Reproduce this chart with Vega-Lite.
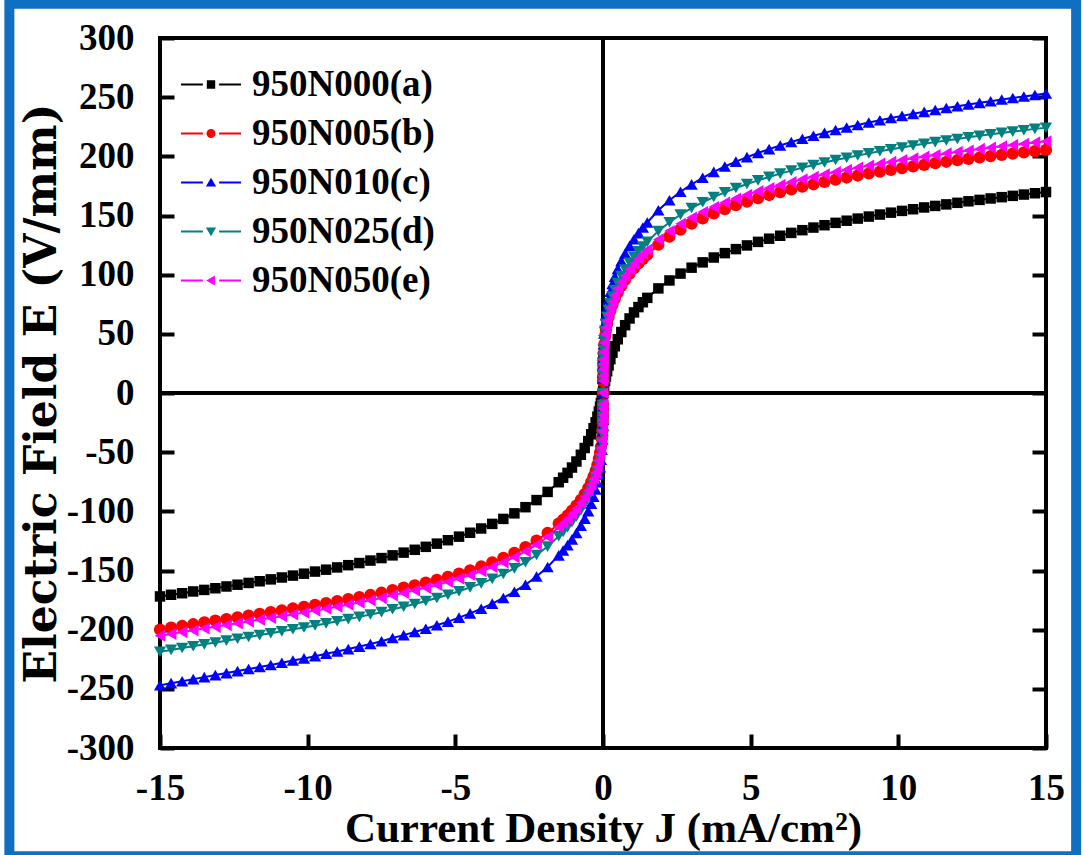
{
"$schema": "https://vega.github.io/schema/vega-lite/v6.json",
"width": 886, "height": 710,
"autosize": {"type": "none"},
"padding": {"left": 160, "top": 38, "right": 37, "bottom": 107},
"background": "white",
"config": {
 "view": {"stroke": "black", "strokeWidth": 4},
 "axis": {"grid": false, "domain": false, "ticks": true, "tickColor": "black", "tickWidth": 4, "tickSize": -14, "labelFont": "Liberation Serif", "labelFontSize": 37, "labelFontWeight": "bold", "labelColor": "black", "titleFont": "Liberation Serif", "titleFontSize": 43, "titleFontWeight": "bold", "titleColor": "black", "labelFlush": false, "labelOverlap": false},
 "legend": {"labelFont": "Liberation Serif", "labelFontSize": 37, "labelFontWeight": "bold", "labelColor": "black", "labelOffset": 11, "symbolSize": 3600, "clipHeight": 49, "rowPadding": 0, "padding": 0, "symbolStrokeWidth": 0, "labelLimit": 400}
},
"datasets": {"iv": [
{"s":"a","J":-15,"E":-171.9},{"s":"a","J":-14.625,"E":-170.5},{"s":"a","J":-14.25,"E":-169.2},{"s":"a","J":-13.875,"E":-167.7},{"s":"a","J":-13.5,"E":-166.4},{"s":"a","J":-13.125,"E":-165.0},{"s":"a","J":-12.75,"E":-163.5},{"s":"a","J":-12.375,"E":-162.0},{"s":"a","J":-12,"E":-160.5},{"s":"a","J":-11.625,"E":-159.1},{"s":"a","J":-11.25,"E":-157.5},{"s":"a","J":-10.875,"E":-155.9},{"s":"a","J":-10.5,"E":-154.3},{"s":"a","J":-10.125,"E":-152.7},{"s":"a","J":-9.75,"E":-150.9},{"s":"a","J":-9.375,"E":-149.3},{"s":"a","J":-9,"E":-147.4},{"s":"a","J":-8.625,"E":-145.5},{"s":"a","J":-8.25,"E":-143.7},{"s":"a","J":-7.875,"E":-141.6},{"s":"a","J":-7.5,"E":-139.5},{"s":"a","J":-7.125,"E":-137.2},{"s":"a","J":-6.75,"E":-134.9},{"s":"a","J":-6.375,"E":-132.5},{"s":"a","J":-6,"E":-130.0},{"s":"a","J":-5.625,"E":-127.3},{"s":"a","J":-5.25,"E":-124.4},{"s":"a","J":-4.875,"E":-121.4},{"s":"a","J":-4.5,"E":-118.1},{"s":"a","J":-4.125,"E":-114.5},{"s":"a","J":-3.75,"E":-110.6},{"s":"a","J":-3.375,"E":-106.4},{"s":"a","J":-3,"E":-101.7},{"s":"a","J":-2.625,"E":-96.5},{"s":"a","J":-2.25,"E":-90.5},{"s":"a","J":-1.875,"E":-83.6},{"s":"a","J":-1.5,"E":-75.4},{"s":"a","J":-1.35,"E":-71.6},{"s":"a","J":-1.2,"E":-67.5},{"s":"a","J":-1.05,"E":-63.0},{"s":"a","J":-0.9,"E":-57.9},{"s":"a","J":-0.75,"E":-52.2},{"s":"a","J":-0.62,"E":-46.5},{"s":"a","J":-0.5,"E":-40.6},{"s":"a","J":-0.4,"E":-34.9},{"s":"a","J":-0.32,"E":-29.8},{"s":"a","J":-0.25,"E":-24.8},{"s":"a","J":-0.19,"E":-20.0},{"s":"a","J":-0.14,"E":-15.6},{"s":"a","J":-0.1,"E":-11.6},{"s":"a","J":-0.07,"E":-8.5},{"s":"a","J":-0.04,"E":-5.0},{"s":"a","J":-0.02,"E":-2.6},{"s":"a","J":-0.01,"E":-1.3},{"s":"a","J":0,"E":0},
{"s":"a","J":0.01,"E":1.6},{"s":"a","J":0.02,"E":3.2},{"s":"a","J":0.04,"E":6.1},{"s":"a","J":0.07,"E":10.2},{"s":"a","J":0.1,"E":13.9},{"s":"a","J":0.14,"E":18.4},{"s":"a","J":0.19,"E":23.3},{"s":"a","J":0.25,"E":28.6},{"s":"a","J":0.32,"E":34.0},{"s":"a","J":0.4,"E":39.5},{"s":"a","J":0.5,"E":45.4},{"s":"a","J":0.62,"E":51.5},{"s":"a","J":0.75,"E":57.3},{"s":"a","J":0.9,"E":63.0},{"s":"a","J":1.05,"E":68.1},{"s":"a","J":1.2,"E":72.6},{"s":"a","J":1.35,"E":76.7},{"s":"a","J":1.5,"E":80.4},{"s":"a","J":1.875,"E":88.4},{"s":"a","J":2.25,"E":95.1},{"s":"a","J":2.625,"E":100.9},{"s":"a","J":3,"E":105.9},{"s":"a","J":3.375,"E":110.4},{"s":"a","J":3.75,"E":114.5},{"s":"a","J":4.125,"E":118.2},{"s":"a","J":4.5,"E":121.6},{"s":"a","J":4.875,"E":124.7},{"s":"a","J":5.25,"E":127.7},{"s":"a","J":5.625,"E":130.4},{"s":"a","J":6,"E":132.9},{"s":"a","J":6.375,"E":135.3},{"s":"a","J":6.75,"E":137.6},{"s":"a","J":7.125,"E":139.8},{"s":"a","J":7.5,"E":141.8},{"s":"a","J":7.875,"E":143.8},{"s":"a","J":8.25,"E":145.6},{"s":"a","J":8.625,"E":147.4},{"s":"a","J":9,"E":149.1},{"s":"a","J":9.375,"E":150.8},{"s":"a","J":9.75,"E":152.4},{"s":"a","J":10.125,"E":153.9},{"s":"a","J":10.5,"E":155.3},{"s":"a","J":10.875,"E":156.8},{"s":"a","J":11.25,"E":158.1},{"s":"a","J":11.625,"E":159.4},{"s":"a","J":12,"E":160.7},{"s":"a","J":12.375,"E":162.0},{"s":"a","J":12.75,"E":163.2},{"s":"a","J":13.125,"E":164.4},{"s":"a","J":13.5,"E":165.5},{"s":"a","J":13.875,"E":166.6},{"s":"a","J":14.25,"E":167.7},{"s":"a","J":14.625,"E":168.8},{"s":"a","J":15,"E":169.8},
{"s":"b","J":-15,"E":-199.9},{"s":"b","J":-14.625,"E":-198.3},{"s":"b","J":-14.25,"E":-196.9},{"s":"b","J":-13.875,"E":-195.4},{"s":"b","J":-13.5,"E":-193.9},{"s":"b","J":-13.125,"E":-192.4},{"s":"b","J":-12.75,"E":-191.0},{"s":"b","J":-12.375,"E":-189.6},{"s":"b","J":-12,"E":-188.1},{"s":"b","J":-11.625,"E":-186.7},{"s":"b","J":-11.25,"E":-185.2},{"s":"b","J":-10.875,"E":-183.7},{"s":"b","J":-10.5,"E":-182.1},{"s":"b","J":-10.125,"E":-180.7},{"s":"b","J":-9.75,"E":-179.1},{"s":"b","J":-9.375,"E":-177.5},{"s":"b","J":-9,"E":-175.9},{"s":"b","J":-8.625,"E":-174.2},{"s":"b","J":-8.25,"E":-172.5},{"s":"b","J":-7.875,"E":-170.7},{"s":"b","J":-7.5,"E":-168.8},{"s":"b","J":-7.125,"E":-166.5},{"s":"b","J":-6.75,"E":-164.5},{"s":"b","J":-6.375,"E":-162.5},{"s":"b","J":-6,"E":-160.2},{"s":"b","J":-5.625,"E":-157.9},{"s":"b","J":-5.25,"E":-155.4},{"s":"b","J":-4.875,"E":-152.7},{"s":"b","J":-4.5,"E":-149.8},{"s":"b","J":-4.125,"E":-146.6},{"s":"b","J":-3.75,"E":-143.1},{"s":"b","J":-3.375,"E":-139.3},{"s":"b","J":-3,"E":-135.1},{"s":"b","J":-2.625,"E":-130.3},{"s":"b","J":-2.25,"E":-124.8},{"s":"b","J":-1.875,"E":-118.3},{"s":"b","J":-1.5,"E":-110.4},{"s":"b","J":-1.35,"E":-107.1},{"s":"b","J":-1.2,"E":-103.5},{"s":"b","J":-1.05,"E":-99.5},{"s":"b","J":-0.9,"E":-95.2},{"s":"b","J":-0.75,"E":-90.3},{"s":"b","J":-0.62,"E":-85.4},{"s":"b","J":-0.5,"E":-80.3},{"s":"b","J":-0.4,"E":-75.2},{"s":"b","J":-0.32,"E":-70.5},{"s":"b","J":-0.25,"E":-65.7},{"s":"b","J":-0.19,"E":-60.6},{"s":"b","J":-0.14,"E":-55.5},{"s":"b","J":-0.1,"E":-50.3},{"s":"b","J":-0.07,"E":-45.4},{"s":"b","J":-0.04,"E":-38.6},{"s":"b","J":-0.02,"E":-31.6},{"s":"b","J":-0.01,"E":-25.8},{"s":"b","J":-0.006,"E":-22.3},{"s":"b","J":-0.003,"E":-18.2},{"s":"b","J":-0.001,"E":-13.2},{"s":"b","J":-0.0003,"E":-9.3},{"s":"b","J":0,"E":0},
{"s":"b","J":0.0003,"E":9.9},{"s":"b","J":0.001,"E":14.0},{"s":"b","J":0.003,"E":19.3},{"s":"b","J":0.006,"E":23.6},{"s":"b","J":0.01,"E":27.4},{"s":"b","J":0.02,"E":33.4},{"s":"b","J":0.04,"E":40.9},{"s":"b","J":0.07,"E":48.1},{"s":"b","J":0.1,"E":53.3},{"s":"b","J":0.14,"E":58.8},{"s":"b","J":0.19,"E":64.2},{"s":"b","J":0.25,"E":69.6},{"s":"b","J":0.32,"E":74.7},{"s":"b","J":0.4,"E":79.7},{"s":"b","J":0.5,"E":85.0},{"s":"b","J":0.62,"E":90.5},{"s":"b","J":0.75,"E":95.7},{"s":"b","J":0.9,"E":100.8},{"s":"b","J":1.05,"E":105.4},{"s":"b","J":1.2,"E":109.6},{"s":"b","J":1.35,"E":113.4},{"s":"b","J":1.5,"E":116.9},{"s":"b","J":1.875,"E":125.3},{"s":"b","J":2.25,"E":132.2},{"s":"b","J":2.625,"E":138.0},{"s":"b","J":3,"E":143.1},{"s":"b","J":3.375,"E":147.6},{"s":"b","J":3.75,"E":151.7},{"s":"b","J":4.125,"E":155.3},{"s":"b","J":4.5,"E":158.7},{"s":"b","J":4.875,"E":161.7},{"s":"b","J":5.25,"E":164.6},{"s":"b","J":5.625,"E":167.3},{"s":"b","J":6,"E":169.8},{"s":"b","J":6.375,"E":172.1},{"s":"b","J":6.75,"E":174.3},{"s":"b","J":7.125,"E":176.4},{"s":"b","J":7.5,"E":178.4},{"s":"b","J":7.875,"E":180.3},{"s":"b","J":8.25,"E":182.1},{"s":"b","J":8.625,"E":183.8},{"s":"b","J":9,"E":185.5},{"s":"b","J":9.375,"E":187.1},{"s":"b","J":9.75,"E":188.6},{"s":"b","J":10.125,"E":190.1},{"s":"b","J":10.5,"E":191.5},{"s":"b","J":10.875,"E":192.8},{"s":"b","J":11.25,"E":194.2},{"s":"b","J":11.625,"E":195.4},{"s":"b","J":12,"E":196.7},{"s":"b","J":12.375,"E":197.9},{"s":"b","J":12.75,"E":199.0},{"s":"b","J":13.125,"E":200.2},{"s":"b","J":13.5,"E":201.3},{"s":"b","J":13.875,"E":202.3},{"s":"b","J":14.25,"E":203.4},{"s":"b","J":14.625,"E":204.4},{"s":"b","J":15,"E":205.4},
{"s":"c","J":-15,"E":-247.0},{"s":"c","J":-14.625,"E":-245.2},{"s":"c","J":-14.25,"E":-243.6},{"s":"c","J":-13.875,"E":-241.8},{"s":"c","J":-13.5,"E":-240.1},{"s":"c","J":-13.125,"E":-238.4},{"s":"c","J":-12.75,"E":-236.7},{"s":"c","J":-12.375,"E":-235.0},{"s":"c","J":-12,"E":-233.3},{"s":"c","J":-11.625,"E":-231.5},{"s":"c","J":-11.25,"E":-229.8},{"s":"c","J":-10.875,"E":-228.0},{"s":"c","J":-10.5,"E":-226.1},{"s":"c","J":-10.125,"E":-224.3},{"s":"c","J":-9.75,"E":-222.4},{"s":"c","J":-9.375,"E":-220.4},{"s":"c","J":-9,"E":-218.5},{"s":"c","J":-8.625,"E":-216.4},{"s":"c","J":-8.25,"E":-214.3},{"s":"c","J":-7.875,"E":-212.1},{"s":"c","J":-7.5,"E":-209.8},{"s":"c","J":-7.125,"E":-207.0},{"s":"c","J":-6.75,"E":-204.6},{"s":"c","J":-6.375,"E":-202.0},{"s":"c","J":-6,"E":-199.2},{"s":"c","J":-5.625,"E":-196.3},{"s":"c","J":-5.25,"E":-193.2},{"s":"c","J":-4.875,"E":-189.8},{"s":"c","J":-4.5,"E":-186.2},{"s":"c","J":-4.125,"E":-182.3},{"s":"c","J":-3.75,"E":-178.0},{"s":"c","J":-3.375,"E":-173.2},{"s":"c","J":-3,"E":-167.9},{"s":"c","J":-2.625,"E":-162.0},{"s":"c","J":-2.25,"E":-155.1},{"s":"c","J":-1.875,"E":-147.0},{"s":"c","J":-1.5,"E":-137.2},{"s":"c","J":-1.35,"E":-133.1},{"s":"c","J":-1.2,"E":-128.6},{"s":"c","J":-1.05,"E":-123.7},{"s":"c","J":-0.9,"E":-118.3},{"s":"c","J":-0.75,"E":-112.2},{"s":"c","J":-0.62,"E":-106.2},{"s":"c","J":-0.5,"E":-99.8},{"s":"c","J":-0.4,"E":-93.5},{"s":"c","J":-0.32,"E":-87.7},{"s":"c","J":-0.25,"E":-81.6},{"s":"c","J":-0.19,"E":-75.4},{"s":"c","J":-0.14,"E":-69.0},{"s":"c","J":-0.1,"E":-62.6},{"s":"c","J":-0.07,"E":-56.4},{"s":"c","J":-0.04,"E":-48.0},{"s":"c","J":-0.02,"E":-39.2},{"s":"c","J":-0.01,"E":-32.1},{"s":"c","J":-0.006,"E":-27.7},{"s":"c","J":-0.003,"E":-22.6},{"s":"c","J":-0.001,"E":-16.5},{"s":"c","J":-0.0003,"E":-11.6},{"s":"c","J":0,"E":0},
{"s":"c","J":0.0003,"E":12.2},{"s":"c","J":0.001,"E":17.3},{"s":"c","J":0.003,"E":23.8},{"s":"c","J":0.006,"E":29.1},{"s":"c","J":0.01,"E":33.7},{"s":"c","J":0.02,"E":41.2},{"s":"c","J":0.04,"E":50.4},{"s":"c","J":0.07,"E":59.2},{"s":"c","J":0.1,"E":65.7},{"s":"c","J":0.14,"E":72.4},{"s":"c","J":0.19,"E":79.2},{"s":"c","J":0.25,"E":85.7},{"s":"c","J":0.32,"E":92.1},{"s":"c","J":0.4,"E":98.2},{"s":"c","J":0.5,"E":104.8},{"s":"c","J":0.62,"E":111.5},{"s":"c","J":0.75,"E":117.9},{"s":"c","J":0.9,"E":124.3},{"s":"c","J":1.05,"E":129.9},{"s":"c","J":1.2,"E":135.1},{"s":"c","J":1.35,"E":139.8},{"s":"c","J":1.5,"E":144.1},{"s":"c","J":1.875,"E":154.4},{"s":"c","J":2.25,"E":162.9},{"s":"c","J":2.625,"E":170.1},{"s":"c","J":3,"E":176.3},{"s":"c","J":3.375,"E":181.9},{"s":"c","J":3.75,"E":186.9},{"s":"c","J":4.125,"E":191.4},{"s":"c","J":4.5,"E":195.5},{"s":"c","J":4.875,"E":199.3},{"s":"c","J":5.25,"E":202.8},{"s":"c","J":5.625,"E":206.1},{"s":"c","J":6,"E":209.2},{"s":"c","J":6.375,"E":212.1},{"s":"c","J":6.75,"E":214.8},{"s":"c","J":7.125,"E":217.4},{"s":"c","J":7.5,"E":219.8},{"s":"c","J":7.875,"E":222.2},{"s":"c","J":8.25,"E":224.4},{"s":"c","J":8.625,"E":226.5},{"s":"c","J":9,"E":228.6},{"s":"c","J":9.375,"E":230.5},{"s":"c","J":9.75,"E":232.4},{"s":"c","J":10.125,"E":234.2},{"s":"c","J":10.5,"E":235.9},{"s":"c","J":10.875,"E":237.6},{"s":"c","J":11.25,"E":239.2},{"s":"c","J":11.625,"E":240.8},{"s":"c","J":12,"E":242.3},{"s":"c","J":12.375,"E":243.8},{"s":"c","J":12.75,"E":245.2},{"s":"c","J":13.125,"E":246.6},{"s":"c","J":13.5,"E":248.0},{"s":"c","J":13.875,"E":249.3},{"s":"c","J":14.25,"E":250.6},{"s":"c","J":14.625,"E":251.8},{"s":"c","J":15,"E":253.1},
{"s":"d","J":-15,"E":-218.7},{"s":"d","J":-14.625,"E":-217.1},{"s":"d","J":-14.25,"E":-215.5},{"s":"d","J":-13.875,"E":-214.0},{"s":"d","J":-13.5,"E":-212.4},{"s":"d","J":-13.125,"E":-210.8},{"s":"d","J":-12.75,"E":-209.3},{"s":"d","J":-12.375,"E":-207.7},{"s":"d","J":-12,"E":-206.2},{"s":"d","J":-11.625,"E":-204.6},{"s":"d","J":-11.25,"E":-203.0},{"s":"d","J":-10.875,"E":-201.4},{"s":"d","J":-10.5,"E":-199.7},{"s":"d","J":-10.125,"E":-198.2},{"s":"d","J":-9.75,"E":-196.4},{"s":"d","J":-9.375,"E":-194.7},{"s":"d","J":-9,"E":-192.9},{"s":"d","J":-8.625,"E":-191.1},{"s":"d","J":-8.25,"E":-189.2},{"s":"d","J":-7.875,"E":-187.2},{"s":"d","J":-7.5,"E":-185.2},{"s":"d","J":-7.125,"E":-182.7},{"s":"d","J":-6.75,"E":-180.6},{"s":"d","J":-6.375,"E":-178.3},{"s":"d","J":-6,"E":-175.8},{"s":"d","J":-5.625,"E":-173.2},{"s":"d","J":-5.25,"E":-170.5},{"s":"d","J":-4.875,"E":-167.5},{"s":"d","J":-4.5,"E":-164.3},{"s":"d","J":-4.125,"E":-160.9},{"s":"d","J":-3.75,"E":-157.1},{"s":"d","J":-3.375,"E":-152.9},{"s":"d","J":-3,"E":-148.2},{"s":"d","J":-2.625,"E":-143.0},{"s":"d","J":-2.25,"E":-136.9},{"s":"d","J":-1.875,"E":-129.8},{"s":"d","J":-1.5,"E":-121.1},{"s":"d","J":-1.35,"E":-117.5},{"s":"d","J":-1.2,"E":-113.5},{"s":"d","J":-1.05,"E":-109.2},{"s":"d","J":-0.9,"E":-104.4},{"s":"d","J":-0.75,"E":-99.1},{"s":"d","J":-0.62,"E":-93.8},{"s":"d","J":-0.5,"E":-88.1},{"s":"d","J":-0.4,"E":-82.6},{"s":"d","J":-0.32,"E":-77.4},{"s":"d","J":-0.25,"E":-72.0},{"s":"d","J":-0.19,"E":-66.5},{"s":"d","J":-0.14,"E":-60.9},{"s":"d","J":-0.1,"E":-55.2},{"s":"d","J":-0.07,"E":-49.8},{"s":"d","J":-0.04,"E":-42.3},{"s":"d","J":-0.02,"E":-34.6},{"s":"d","J":-0.01,"E":-28.3},{"s":"d","J":-0.006,"E":-24.4},{"s":"d","J":-0.003,"E":-20.0},{"s":"d","J":-0.001,"E":-14.5},{"s":"d","J":-0.0003,"E":-10.2},{"s":"d","J":0,"E":0},
{"s":"d","J":0.0003,"E":10.8},{"s":"d","J":0.001,"E":15.3},{"s":"d","J":0.003,"E":21.1},{"s":"d","J":0.006,"E":25.8},{"s":"d","J":0.01,"E":29.9},{"s":"d","J":0.02,"E":36.5},{"s":"d","J":0.04,"E":44.6},{"s":"d","J":0.07,"E":52.5},{"s":"d","J":0.1,"E":58.2},{"s":"d","J":0.14,"E":64.2},{"s":"d","J":0.19,"E":70.1},{"s":"d","J":0.25,"E":75.9},{"s":"d","J":0.32,"E":81.6},{"s":"d","J":0.4,"E":87.0},{"s":"d","J":0.5,"E":92.9},{"s":"d","J":0.62,"E":98.8},{"s":"d","J":0.75,"E":104.4},{"s":"d","J":0.9,"E":110.1},{"s":"d","J":1.05,"E":115.1},{"s":"d","J":1.2,"E":119.7},{"s":"d","J":1.35,"E":123.8},{"s":"d","J":1.5,"E":127.7},{"s":"d","J":1.875,"E":136.8},{"s":"d","J":2.25,"E":144.3},{"s":"d","J":2.625,"E":150.7},{"s":"d","J":3,"E":156.3},{"s":"d","J":3.375,"E":161.2},{"s":"d","J":3.75,"E":165.6},{"s":"d","J":4.125,"E":169.6},{"s":"d","J":4.5,"E":173.2},{"s":"d","J":4.875,"E":176.6},{"s":"d","J":5.25,"E":179.7},{"s":"d","J":5.625,"E":182.6},{"s":"d","J":6,"E":185.4},{"s":"d","J":6.375,"E":187.9},{"s":"d","J":6.75,"E":190.3},{"s":"d","J":7.125,"E":192.6},{"s":"d","J":7.5,"E":194.8},{"s":"d","J":7.875,"E":196.9},{"s":"d","J":8.25,"E":198.8},{"s":"d","J":8.625,"E":200.7},{"s":"d","J":9,"E":202.5},{"s":"d","J":9.375,"E":204.3},{"s":"d","J":9.75,"E":205.9},{"s":"d","J":10.125,"E":207.5},{"s":"d","J":10.5,"E":209.1},{"s":"d","J":10.875,"E":210.6},{"s":"d","J":11.25,"E":212.0},{"s":"d","J":11.625,"E":213.4},{"s":"d","J":12,"E":214.7},{"s":"d","J":12.375,"E":216.1},{"s":"d","J":12.75,"E":217.3},{"s":"d","J":13.125,"E":218.6},{"s":"d","J":13.5,"E":219.8},{"s":"d","J":13.875,"E":220.9},{"s":"d","J":14.25,"E":222.1},{"s":"d","J":14.625,"E":223.2},{"s":"d","J":15,"E":224.2},
{"s":"e","J":-15,"E":-205.1},{"s":"e","J":-14.625,"E":-203.6},{"s":"e","J":-14.25,"E":-202.0},{"s":"e","J":-13.875,"E":-200.5},{"s":"e","J":-13.5,"E":-199.0},{"s":"e","J":-13.125,"E":-197.6},{"s":"e","J":-12.75,"E":-196.1},{"s":"e","J":-12.375,"E":-194.6},{"s":"e","J":-12,"E":-193.1},{"s":"e","J":-11.625,"E":-191.6},{"s":"e","J":-11.25,"E":-190.1},{"s":"e","J":-10.875,"E":-188.6},{"s":"e","J":-10.5,"E":-187.1},{"s":"e","J":-10.125,"E":-185.5},{"s":"e","J":-9.75,"E":-183.9},{"s":"e","J":-9.375,"E":-182.3},{"s":"e","J":-9,"E":-180.6},{"s":"e","J":-8.625,"E":-178.9},{"s":"e","J":-8.25,"E":-177.1},{"s":"e","J":-7.875,"E":-175.2},{"s":"e","J":-7.5,"E":-173.3},{"s":"e","J":-7.125,"E":-171.0},{"s":"e","J":-6.75,"E":-169.0},{"s":"e","J":-6.375,"E":-166.8},{"s":"e","J":-6,"E":-164.6},{"s":"e","J":-5.625,"E":-162.2},{"s":"e","J":-5.25,"E":-159.6},{"s":"e","J":-4.875,"E":-156.8},{"s":"e","J":-4.5,"E":-153.8},{"s":"e","J":-4.125,"E":-150.6},{"s":"e","J":-3.75,"E":-147.0},{"s":"e","J":-3.375,"E":-143.1},{"s":"e","J":-3,"E":-138.7},{"s":"e","J":-2.625,"E":-133.8},{"s":"e","J":-2.25,"E":-128.1},{"s":"e","J":-1.875,"E":-121.5},{"s":"e","J":-1.5,"E":-113.4},{"s":"e","J":-1.35,"E":-110.0},{"s":"e","J":-1.2,"E":-106.3},{"s":"e","J":-1.05,"E":-102.2},{"s":"e","J":-0.9,"E":-97.8},{"s":"e","J":-0.75,"E":-92.7},{"s":"e","J":-0.62,"E":-87.7},{"s":"e","J":-0.5,"E":-82.4},{"s":"e","J":-0.4,"E":-77.3},{"s":"e","J":-0.32,"E":-72.4},{"s":"e","J":-0.25,"E":-67.4},{"s":"e","J":-0.19,"E":-62.3},{"s":"e","J":-0.14,"E":-57.0},{"s":"e","J":-0.1,"E":-51.7},{"s":"e","J":-0.07,"E":-46.6},{"s":"e","J":-0.04,"E":-39.6},{"s":"e","J":-0.02,"E":-32.4},{"s":"e","J":-0.01,"E":-26.5},{"s":"e","J":-0.006,"E":-22.9},{"s":"e","J":-0.003,"E":-18.7},{"s":"e","J":-0.001,"E":-13.6},{"s":"e","J":-0.0003,"E":-9.6},{"s":"e","J":0,"E":0},
{"s":"e","J":0.0003,"E":10.2},{"s":"e","J":0.001,"E":14.5},{"s":"e","J":0.003,"E":20.0},{"s":"e","J":0.006,"E":24.4},{"s":"e","J":0.01,"E":28.3},{"s":"e","J":0.02,"E":34.6},{"s":"e","J":0.04,"E":42.3},{"s":"e","J":0.07,"E":49.8},{"s":"e","J":0.1,"E":55.2},{"s":"e","J":0.14,"E":60.9},{"s":"e","J":0.19,"E":66.5},{"s":"e","J":0.25,"E":72.0},{"s":"e","J":0.32,"E":77.4},{"s":"e","J":0.4,"E":82.6},{"s":"e","J":0.5,"E":88.1},{"s":"e","J":0.62,"E":93.8},{"s":"e","J":0.75,"E":99.1},{"s":"e","J":0.9,"E":104.4},{"s":"e","J":1.05,"E":109.2},{"s":"e","J":1.2,"E":113.5},{"s":"e","J":1.35,"E":117.5},{"s":"e","J":1.5,"E":121.1},{"s":"e","J":1.875,"E":129.8},{"s":"e","J":2.25,"E":136.9},{"s":"e","J":2.625,"E":143.0},{"s":"e","J":3,"E":148.2},{"s":"e","J":3.375,"E":152.9},{"s":"e","J":3.75,"E":157.1},{"s":"e","J":4.125,"E":160.9},{"s":"e","J":4.5,"E":164.3},{"s":"e","J":4.875,"E":167.5},{"s":"e","J":5.25,"E":170.5},{"s":"e","J":5.625,"E":173.2},{"s":"e","J":6,"E":175.8},{"s":"e","J":6.375,"E":178.3},{"s":"e","J":6.75,"E":180.6},{"s":"e","J":7.125,"E":182.7},{"s":"e","J":7.5,"E":184.8},{"s":"e","J":7.875,"E":186.7},{"s":"e","J":8.25,"E":188.6},{"s":"e","J":8.625,"E":190.4},{"s":"e","J":9,"E":192.1},{"s":"e","J":9.375,"E":193.8},{"s":"e","J":9.75,"E":195.3},{"s":"e","J":10.125,"E":196.9},{"s":"e","J":10.5,"E":198.3},{"s":"e","J":10.875,"E":199.7},{"s":"e","J":11.25,"E":201.1},{"s":"e","J":11.625,"E":202.4},{"s":"e","J":12,"E":203.7},{"s":"e","J":12.375,"E":204.9},{"s":"e","J":12.75,"E":206.2},{"s":"e","J":13.125,"E":207.3},{"s":"e","J":13.5,"E":208.5},{"s":"e","J":13.875,"E":209.6},{"s":"e","J":14.25,"E":210.6},{"s":"e","J":14.625,"E":211.7},{"s":"e","J":15,"E":212.7}
]},
"resolve": {"scale": {"color": "independent", "shape": "independent"}, "axis": {"x": "independent", "y": "independent"}},
"layer": [
 {"data": {"values": [{}]},
  "mark": {"type": "rect", "fillOpacity": 0, "stroke": "#0F6FC0", "strokeWidth": 10, "clip": false},
  "encoding": {"x": {"datum": -20.1, "type": "quantitative", "axis": null}, "x2": {"datum": 16.02}, "y": {"datum": 329, "type": "quantitative", "axis": null}, "y2": {"datum": -391.5}}},
 {"data": {"values": [{}]},
  "mark": {"type": "rule", "color": "black", "strokeWidth": 4},
  "encoding": {"y": {"datum": 0, "type": "quantitative", "axis": {"orient": "right", "labels": false, "title": null, "values": [-300,-250,-200,-150,-100,-50,0,50,100,150,200,250,300]}}}},
 {"data": {"values": [{}]},
  "mark": {"type": "rule", "color": "black", "strokeWidth": 4},
  "encoding": {"x": {"datum": 0, "type": "quantitative", "axis": null}}},
 {"data": {"name": "iv"},
  "mark": {"type": "line", "strokeWidth": 2},
  "encoding": {
   "x": {"field": "J", "type": "quantitative", "scale": {"domain": [-15, 15], "nice": false, "zero": false},
         "axis": {"orient": "bottom", "values": [-15,-10,-5,0,5,10,15], "labelExpr": "'' + datum.value", "labelPadding": 36, "title": "Current Density J (mA/cm²)", "titlePadding": 1}},
   "y": {"field": "E", "type": "quantitative", "scale": {"domain": [-300, 300], "nice": false, "zero": false},
         "axis": {"orient": "left", "values": [-300,-250,-200,-150,-100,-50,0,50,100,150,200,250,300], "labelExpr": "'' + datum.value", "labelPadding": 40, "title": "Electric Field E (V/mm)", "titleFont": "DejaVu Serif", "titleFontSize": 44, "titlePadding": 2}},
   "color": {"field": "s", "type": "nominal", "scale": {"domain": ["a","b","c","d","e"], "range": ["#000000","#FF0000","#0000FF","#008080","#FF00FF"]}, "legend": null}}},
 {"data": {"name": "iv"},
  "transform": [{"filter": "datum.s == 'a'"}],
  "mark": {"type": "point", "filled": true, "opacity": 1, "size": 110, "shape": "square", "color": "#000000"},
  "encoding": {
   "x": {"field": "J", "type": "quantitative", "axis": null},
   "y": {"field": "E", "type": "quantitative", "axis": null}}},
 {"data": {"name": "iv"},
  "transform": [{"filter": "datum.s != 'a'"}],
  "mark": {"type": "point", "filled": true, "opacity": 1, "size": 150},
  "encoding": {
   "x": {"field": "J", "type": "quantitative", "axis": null},
   "y": {"field": "E", "type": "quantitative", "axis": null},
   "color": {"field": "s", "type": "nominal", "scale": {"domain": ["a","b","c","d","e"], "range": ["#000000","#FF0000","#0000FF","#008080","#FF00FF"]}, "legend": null},
   "shape": {"field": "s", "type": "nominal", "scale": {"domain": ["a","b","c","d","e"], "range": ["square","circle","triangle-up","triangle-down","triangle-left"]}, "legend": null}}},
 {"data": {"name": "iv"},
  "transform": [{"filter": "datum.J > 1000"}],
  "mark": {"type": "point", "filled": true, "opacity": 1, "size": 3600},
  "encoding": {
   "x": {"field": "J", "type": "quantitative", "axis": null},
   "y": {"field": "E", "type": "quantitative", "axis": null},
   "color": {"field": "s", "type": "nominal", "scale": {"domain": ["a","b","c","d","e"], "range": ["#000000","#FF0000","#0000FF","#008080","#FF00FF"]},
     "legend": {"title": null, "orient": "none", "legendX": 21, "legendY": 22, "labelExpr": "datum.label == 'a' ? '950N000(a)' : datum.label == 'b' ? '950N005(b)' : datum.label == 'c' ? '950N010(c)' : datum.label == 'd' ? '950N025(d)' : '950N050(e)'"}},
   "shape": {"field": "s", "type": "nominal", "scale": {"domain": ["a","b","c","d","e"], "range": [
     "M-1,-0.035H-0.27V0.035H-1Z M0.27,-0.035H1V0.035H0.27Z M-0.14,-0.14H0.14V0.14H-0.14Z",
     "M-1,-0.035H-0.27V0.035H-1Z M0.27,-0.035H1V0.035H0.27Z M0.15,0A0.15,0.15,0,1,1,-0.15,0A0.15,0.15,0,1,1,0.15,0Z",
     "M-1,-0.035H-0.27V0.035H-1Z M0.27,-0.035H1V0.035H0.27Z M0,-0.16L0.17,0.13L-0.17,0.13Z",
     "M-1,-0.035H-0.27V0.035H-1Z M0.27,-0.035H1V0.035H0.27Z M0,0.16L0.17,-0.13L-0.17,-0.13Z",
     "M-1,-0.035H-0.27V0.035H-1Z M0.27,-0.035H1V0.035H0.27Z M-0.16,0L0.13,-0.17L0.13,0.17Z"]},
     "legend": {"title": null, "orient": "none", "legendX": 21, "legendY": 22, "labelExpr": "datum.label == 'a' ? '950N000(a)' : datum.label == 'b' ? '950N005(b)' : datum.label == 'c' ? '950N010(c)' : datum.label == 'd' ? '950N025(d)' : '950N050(e)'"}}}}
]
}
